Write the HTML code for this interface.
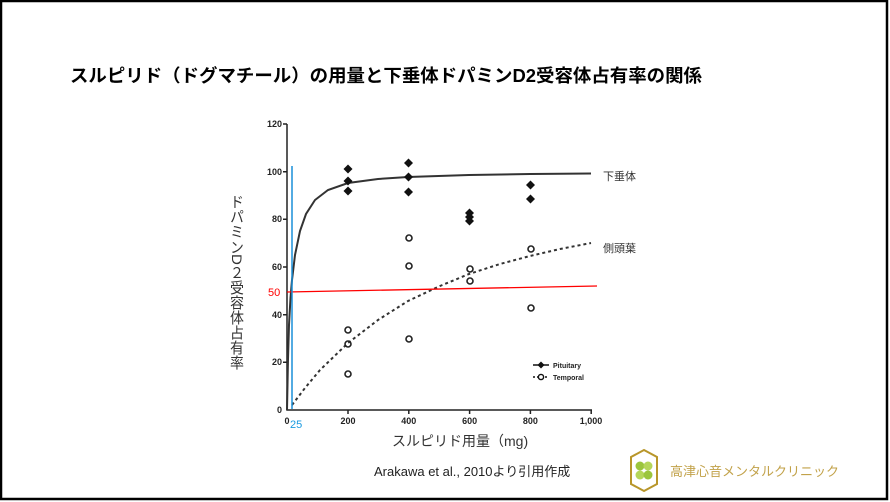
<!DOCTYPE html>
<html><head><meta charset="utf-8"><style>
html,body{margin:0;padding:0;background:#fff}
svg{display:block}
text{font-family:"Liberation Sans","Noto Sans CJK JP",sans-serif}
</style></head><body>
<svg width="890" height="502" viewBox="0 0 890 502" xmlns="http://www.w3.org/2000/svg">
<rect x="1" y="1" width="886" height="498" fill="#fff" stroke="#000" stroke-width="2.5"/>
<text x="70" y="82" font-size="18" font-weight="bold" textLength="632" lengthAdjust="spacingAndGlyphs">スルピリド（ドグマチール）の用量と下垂体ドパミンD2受容体占有率の関係</text>
<!-- axes -->
<g stroke="#222" stroke-width="1.5" fill="none">
<path d="M287 124 V410 H592"/>
<path d="M283 124h4M283 171.7h4M283 219.3h4M283 267h4M283 314.7h4M283 362.3h4"/>
<path d="M348 410v4M408.8 410v4M469.6 410v4M530.4 410v4M591.2 410v4"/>
</g>
<g font-size="9" fill="#222" text-anchor="end" font-weight="bold">
<text x="282" y="127">120</text><text x="282" y="175">100</text><text x="282" y="222">80</text>
<text x="282" y="270">60</text><text x="282" y="318">40</text><text x="282" y="365">20</text><text x="282" y="413">0</text>
</g>
<g font-size="9" fill="#222" text-anchor="middle" font-weight="bold">
<text x="287" y="424">0</text><text x="348" y="424">200</text><text x="408.8" y="424">400</text>
<text x="469.6" y="424">600</text><text x="530.4" y="424">800</text><text x="591" y="424">1,000</text>
</g>
<!-- curves -->
<path d="M287 410 L288 359 L289 325 L290.5 298 L292 280 L295 255 L300 231 L306 214 L315 200 L328 190 L348 183 L378 179 L408 177 L469 175 L530 174 L591 173.5" fill="none" stroke="#333" stroke-width="2"/>
<path d="M292 405 L305 388 L320 370 L348 343 L378 320 L408 301 L440 286 L469 274 L500 264 L530 256 L560 249 L591 243" fill="none" stroke="#333" stroke-width="2" stroke-dasharray="3,3"/>
<!-- red & blue lines -->
<line x1="287" y1="292" x2="597" y2="286" stroke="#f00" stroke-width="1.3"/>
<line x1="292" y1="166" x2="292" y2="409" stroke="#1a8fd8" stroke-width="1.5"/>
<text x="268" y="296" font-size="11" fill="#f00">50</text>
<text x="290" y="428" font-size="11" fill="#1a9ae0">25</text>
<!-- pituitary diamonds -->
<g fill="#111">
<path id="d" d="M0 -4.5L4.5 0L0 4.5L-4.5 0Z" transform="translate(348 169)"/>
<path d="M0 -4.5L4.5 0L0 4.5L-4.5 0Z" transform="translate(348 181)"/>
<path d="M0 -4.5L4.5 0L0 4.5L-4.5 0Z" transform="translate(348 191)"/>
<path d="M0 -4.5L4.5 0L0 4.5L-4.5 0Z" transform="translate(408.5 163)"/>
<path d="M0 -4.5L4.5 0L0 4.5L-4.5 0Z" transform="translate(408.5 177)"/>
<path d="M0 -4.5L4.5 0L0 4.5L-4.5 0Z" transform="translate(408.5 192)"/>
<path d="M0 -4.5L4.5 0L0 4.5L-4.5 0Z" transform="translate(469.5 213)"/>
<path d="M0 -4.5L4.5 0L0 4.5L-4.5 0Z" transform="translate(469.5 217)"/>
<path d="M0 -4.5L4.5 0L0 4.5L-4.5 0Z" transform="translate(469.5 221)"/>
<path d="M0 -4.5L4.5 0L0 4.5L-4.5 0Z" transform="translate(530.5 185)"/>
<path d="M0 -4.5L4.5 0L0 4.5L-4.5 0Z" transform="translate(530.5 199)"/>
</g>
<g fill="none" stroke="#222" stroke-width="1.6">
<circle cx="348" cy="330" r="3"/><circle cx="348" cy="344" r="3"/><circle cx="348" cy="374" r="3"/>
<circle cx="409" cy="238" r="3"/><circle cx="409" cy="266" r="3"/><circle cx="409" cy="339" r="3"/>
<circle cx="470" cy="269" r="3"/><circle cx="470" cy="281" r="3"/>
<circle cx="531" cy="249" r="3"/><circle cx="531" cy="308" r="3"/>
</g>
<!-- legend -->
<line x1="533" y1="365" x2="549" y2="365" stroke="#111" stroke-width="1.5"/>
<path d="M0 -3.5L3.5 0L0 3.5L-3.5 0Z" transform="translate(541 365)" fill="#111"/>
<line x1="533" y1="377" x2="549" y2="377" stroke="#111" stroke-width="1.5" stroke-dasharray="2,2"/>
<circle cx="541" cy="377" r="2.6" fill="#fff" stroke="#111" stroke-width="1.4"/>
<text x="553" y="368" font-size="7" font-weight="bold" fill="#222">Pituitary</text>
<text x="553" y="380" font-size="7" font-weight="bold" fill="#222">Temporal</text>
<!-- series labels -->
<text x="603" y="180" font-size="11" fill="#333">下垂体</text>
<text x="603" y="252" font-size="11" fill="#333">側頭葉</text>
<!-- y label -->
<text x="237" y="194" font-size="14" fill="#333" writing-mode="tb" style="writing-mode:vertical-rl" textLength="176" lengthAdjust="spacingAndGlyphs">ドパミンD２受容体占有率</text>
<!-- x label -->
<text x="392" y="446" font-size="14" fill="#333">スルピリド用量（mg)</text>
<text x="374" y="476" font-size="13" fill="#222">Arakawa et al., 2010より引用作成</text>
<!-- logo -->
<path d="M631 457 L644 450 L657 457 L657 484 L644 491 L631 484Z" fill="#fff" stroke="#b8962a" stroke-width="2"/>
<circle cx="640" cy="466" r="4.5" fill="#9bc53d"/><circle cx="648" cy="466" r="4.5" fill="#b5d65a"/>
<circle cx="640" cy="475" r="4.5" fill="#b5d65a"/><circle cx="648" cy="475" r="4.5" fill="#9bc53d"/>
<text x="670" y="476" font-size="13" fill="#c2a24a">高津心音メンタルクリニック</text>
</svg>
</body></html>
